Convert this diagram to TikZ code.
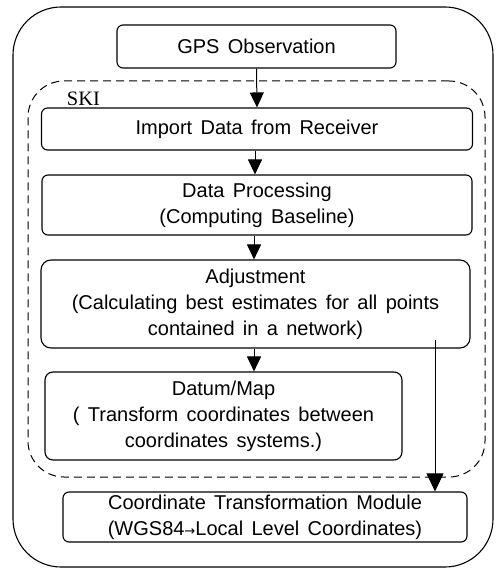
\documentclass[tikz,border=0pt]{standalone}
\usepackage{fontspec}
\setmainfont{Liberation Sans}[WordSpace={1.5}]
\newfontfamily\skifont{Liberation Serif}
\usetikzlibrary{arrows.meta}
\tikzset{
  box/.style={draw, line width=1.1pt, rounded corners=6pt, inner sep=0pt, align=center,
    font=\fontsize{20}{26}\selectfont},
  arr/.style={line width=1pt, -{Triangle[length=15pt,width=14pt]}},
}
\begin{document}
\begin{tikzpicture}[x=1pt,y=-1pt]
\useasboundingbox (0,0) rectangle (497,572);
\node (outer) [draw, line width=1.1pt, rounded corners=48pt, minimum width=480pt, minimum height=560pt] at (253,287) {};
\node (ski) [draw, dashed, dash pattern=on 8pt off 5pt, line width=1pt, rounded corners=36pt, minimum width=457pt, minimum height=396pt] at (256.5,279) {};
\node (skilabel) [font=\skifont\fontsize{20.5}{22}\selectfont, inner sep=0pt, anchor=base] at (83.5,106) {SKI};
\node (gps) [box, minimum width=279pt, minimum height=43pt] at (256.5,46.5) {GPS Observation};
\node (imp) [box, minimum width=431pt, minimum height=42pt] at (257,129) {Import Data from Receiver};
\node (dp) [box, minimum width=430pt, minimum height=60pt] at (257,205) {Data Processing\\(Computing Baseline)};
\node (adj) [box, rounded corners=10pt, minimum width=429pt, minimum height=88pt] at (255.5,304) {Adjustment\\(Calculating best estimates for all points\\contained in a network)};
\node (dm) [box, rounded corners=8pt, minimum width=357pt, minimum height=88pt] at (223.5,416) {Datum/Map\\( Transform coordinates between\\coordinates systems.)};
\node (ctm) [box, minimum width=404pt, minimum height=50pt] at (265,517) {Coordinate Transformation Module\\(WGS84{\fontspec{DejaVu Sans}\fontsize{13}{14}\selectfont →}Local Level Coordinates)};
\draw[arr] (gps.south) -- (imp.north);
\draw[arr] ([xshift=-2pt]imp.south) -- ([xshift=-2pt]dp.north);
\draw[arr] ([xshift=-3pt]dp.south) -- ([xshift=-1.5pt]adj.north);
\draw[arr] ([xshift=-1.5pt]adj.south) -- (dm.north -| 254,0);
\coordinate (ls) at (435,340);
\draw[line width=0.8pt, -{Triangle[length=18pt,width=17pt]}] (ls) -- (ls |- ctm.north);
\end{tikzpicture}
\end{document}
